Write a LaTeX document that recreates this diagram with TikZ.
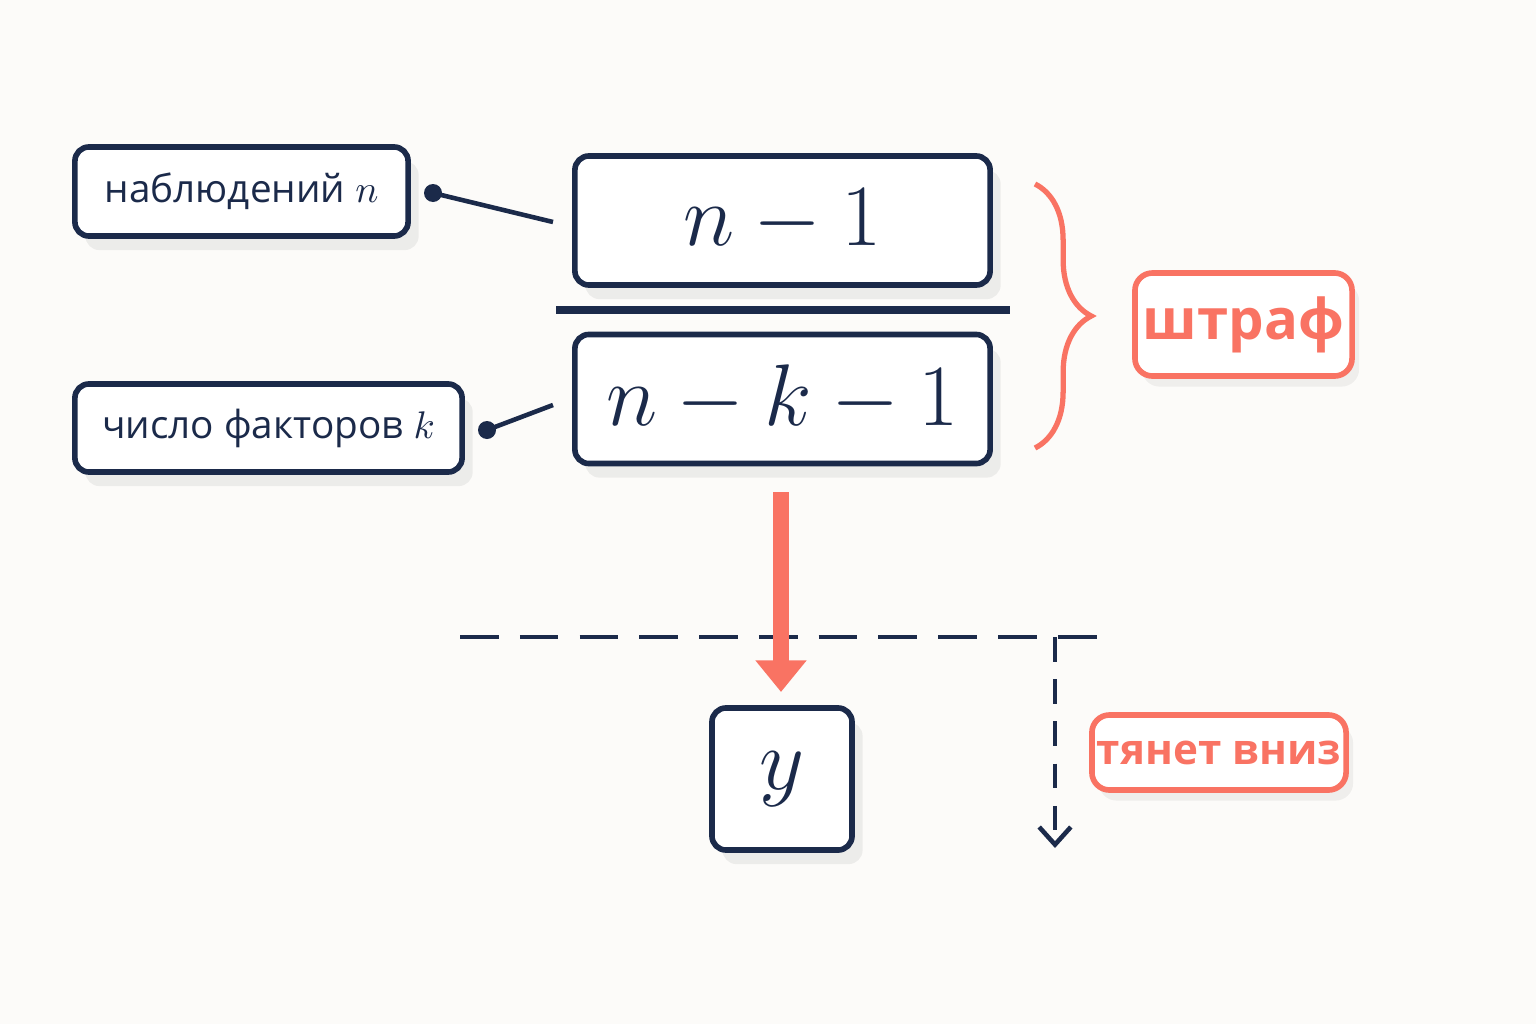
\documentclass[tikz,border=0pt]{standalone}
\usepackage{fontspec}
\setmainfont{Open Sans}
\usepackage{amsmath}
\usetikzlibrary{arrows.meta,positioning,shadows,decorations.pathreplacing}
\definecolor{navy}{HTML}{1B2A4A}
\definecolor{coral}{HTML}{F97363}
\definecolor{paper}{HTML}{FCFBF9}
\begin{document}
\begin{tikzpicture}[x=0.01cm,y=-0.01cm,semithick]
  \tikzstyle{box}=[draw=navy,line width=1.6pt,rounded corners=4pt,fill=white,text=navy,
                   drop shadow={shadow xshift=3pt,shadow yshift=-4pt,opacity=0.12}]
  \tikzstyle{tag}=[box,font=\fontsize{11}{13}\selectfont,inner sep=0pt]
  \tikzstyle{big}=[box,font=\fontsize{30}{32}\selectfont,inner sep=0pt]
  \tikzstyle{note}=[draw=coral,line width=1.6pt,rounded corners=5pt,fill=white,text=coral,inner sep=0pt,
                    drop shadow={shadow xshift=2pt,shadow yshift=-3pt,opacity=0.10}]

  \fill[paper] (0,0) rectangle (1536,1024);
  \useasboundingbox (0,0) rectangle (1536,1024);

  % labels
  \node[tag,minimum width=3.33cm,minimum height=0.89cm] (obs) at (241.5,191.5) {наблюдений $n$};
  \node[tag,minimum width=3.87cm,minimum height=0.88cm] (fac) at (268.5,428) {число факторов $k$};

  % fraction
  \node[big,minimum width=4.15cm,minimum height=1.29cm] (num) at (782.5,220.5) {$n - 1$};
  \node[big,minimum width=4.15cm,minimum height=1.29cm] (den) at (782.5,399) {$n - k - 1$};
  \coordinate (barL) at (556,310);
  \coordinate (barR) at (1010,310);
  \draw[navy,line width=2.2pt] (barL) -- (barR);

  % pointers
  \coordinate (pObs) at (433,193);
  \coordinate (pFac) at (487,430);
  \coordinate (eObs) at (553,222);
  \coordinate (eFac) at (553,405);
  \fill[navy] (pObs) circle (9);
  \fill[navy] (pFac) circle (9);
  \draw[navy,line width=1.3pt] (pObs) -- (eObs);
  \draw[navy,line width=1.3pt] (pFac) -- (eFac);

  % penalty
  \coordinate (brT) at (1035,184);
  \coordinate (brB) at (1035,448);
  \draw[coral,line width=1.5pt,decorate,decoration={brace,amplitude=16pt}] (brT) -- (brB);
  \node[note,minimum width=2.17cm,minimum height=1.03cm,font=\bfseries\fontsize{16}{18}\selectfont]
       (pen) at (1243.5,324.5) {штраф};

  % result
  \node[big,minimum width=1.4cm,minimum height=1.42cm] (y) at (782,779) {$y$};
  \coordinate (dashL) at (460,637);
  \coordinate (dashR) at (1105,637);
  \draw[navy,line width=1.3pt,dash pattern=on 11pt off 6pt] (dashL) -- (dashR);
  \coordinate (arrT) at (781,492);
  \coordinate (arrB) at (781,692);
  \draw[coral,line width=4.5pt,-{Triangle[width=14pt,length=9pt]}] (arrT) -- (arrB);
  \coordinate (dropT) at (1055,637);
  \coordinate (dropB) at (1055,848);
  \draw[navy,line width=1.3pt,dash pattern=on 7pt off 5pt,-{Straight Barb[length=5pt,width=9pt]}] (dropT) -- (dropB);
  \node[note,minimum width=2.54cm,minimum height=0.75cm,font=\bfseries\fontsize{12}{14}\selectfont]
       (pull) at (1219,752.5) {тянет вниз};
\end{tikzpicture}
\end{document}
